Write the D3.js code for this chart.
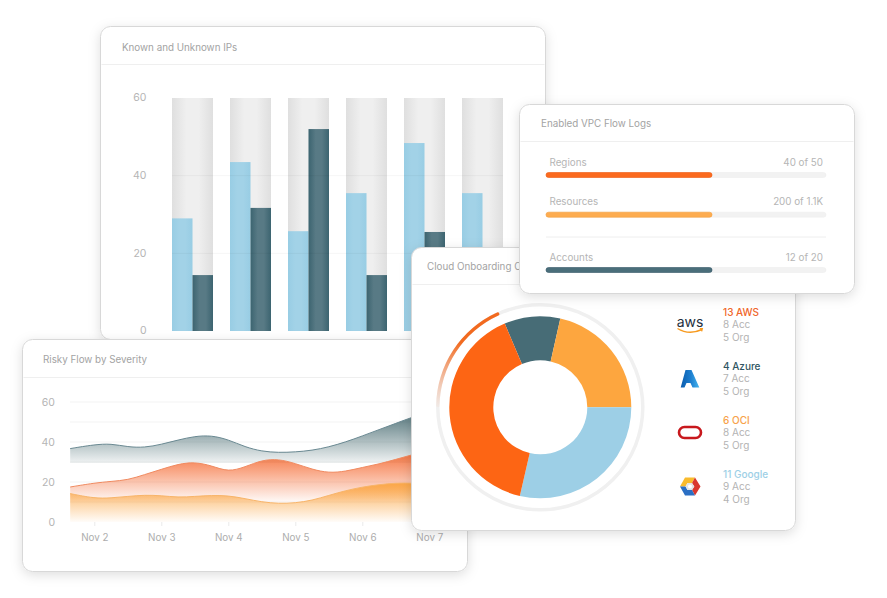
<!DOCTYPE html>
<html>
<head>
<meta charset="utf-8">
<script src="https://cdn.jsdelivr.net/npm/d3@7"></script>
<style>
  html, body { margin: 0; padding: 0; background: #fff; }
  svg { display: block; }
  text { font-family: Inter, "Open Sans", sans-serif; }
</style>
</head>
<body>
<svg id="chart" width="887" height="598"></svg>
<script>
// known / unknown IP bars
const ipGroups = [0, 1, 2, 3, 4, 5];
const knownIps = [29, 43.5, 25.7, 35.5, 48.4, 35.5];
const unknownIps = [14.4, 31.7, 52, 14.4, 25.5, 14.4];
const ipTicks = [0, 20, 40, 60];

// risky flow curves, read every quarter day
const flowDays = [1.64, 2, 2.25, 2.5, 2.75, 3, 3.25, 3.5, 3.75, 4, 4.25, 4.5, 4.75, 5, 5.25, 5.5, 5.75, 6, 6.25, 6.5, 6.75, 7, 7.25];
const flowHigh = [36.7, 38.7, 39.2, 37.5, 37.2, 38.8, 41, 42.9, 43.3, 41.2, 37.5, 35.3, 34.7, 35, 35.8, 37.5, 40, 43, 46.2, 49.3, 52.5, 55, 56.7];
const flowMedium = [17.5, 19.5, 20.3, 21, 23.7, 26.3, 29, 30, 28.2, 25, 27.5, 31, 31.5, 29.3, 26.3, 24.5, 25.3, 27.3, 29, 31.3, 33.7, 35.8, 37.5];
const flowLow = [14.2, 11.8, 12, 12.8, 13.5, 13.2, 12.3, 12.8, 13.3, 13.2, 11.7, 10, 9.2, 9.5, 10.8, 13.3, 15.7, 17.5, 18.7, 19.5, 19.5, 18.8, 18.3];
const flowTicks = [0, 20, 40, 60];
const flowGrid = [10, 20, 30, 40, 50, 60];
const dayTicks = [2, 3, 4, 5, 6, 7];

// cloud onboarding donut, shares
const cloudNames = ["Azure", "OCI", "Google", "AWS"];
const cloudShares = [35.7, 77.3, 103, 144];
const cloudColors = ["#476c76", "#fda63f", "#9dcfe6", "#fd6514"];

// legend
const legendTitles = ["13 AWS", "4 Azure", "6 OCI", "11 Google"];
const legendAcc = ["8 Acc", "7 Acc", "8 Acc", "9 Acc"];
const legendOrg = ["5 Org", "5 Org", "5 Org", "4 Org"];
const legendColors = ["#f0662a", "#2f5562", "#f7a24a", "#9dcfe6"];

// flow logs rows
const logNames = ["Regions", "Resources", "Accounts"];
const logCounts = ["40 of 50", "200 of 1.1K", "12 of 20"];
const logFill = [0.593, 0.593, 0.593];
const logColors = ["#fb6a1e", "#fdac50", "#4a6e7a"];
const logEdges = ["#ee5c12", "#f6a140", "#35596a"];

const svg = d3.select("#chart");
const defs = svg.append("defs");

function hGradient(id, edge, mid) {
    let g = defs.append("linearGradient").attr("id", id);
    g.append("stop").attr("offset", 0).attr("stop-color", edge);
    g.append("stop").attr("offset", 0.35).attr("stop-color", mid);
    g.append("stop").attr("offset", 0.65).attr("stop-color", mid);
    g.append("stop").attr("offset", 1).attr("stop-color", edge);
}
hGradient("barBg", "#dfdfdf", "#efefef");
hGradient("barDark", "#3c6470", "#587a85");
hGradient("barLight", "#98cde4", "#a2d2e7");

function vGradient(id, y1, y2, top, topOp, bottom, bottomOp) {
    let g = defs.append("linearGradient").attr("id", id)
        .attr("gradientUnits", "userSpaceOnUse")
        .attr("x1", 0).attr("x2", 0).attr("y1", y1).attr("y2", y2);
    g.append("stop").attr("offset", 0).attr("stop-color", top).attr("stop-opacity", topOp);
    g.append("stop").attr("offset", 1).attr("stop-color", bottom).attr("stop-opacity", bottomOp);
}

let azureFill = defs.append("linearGradient").attr("id", "azureFill");
azureFill.append("stop").attr("offset", 0).attr("stop-color", "#0b5cad");
azureFill.append("stop").attr("offset", 0.55).attr("stop-color", "#1d7fd0");
azureFill.append("stop").attr("offset", 1).attr("stop-color", "#45b5ee");

let shadow = defs.append("filter").attr("id", "cardShadow")
    .attr("x", "-10%").attr("y", "-10%").attr("width", "120%").attr("height", "125%");
shadow.append("feDropShadow").attr("dx", 0).attr("dy", 3).attr("stdDeviation", 6)
    .attr("flood-color", "#000").attr("flood-opacity", 0.13);

function card(x, y, w, h, headerY, title, titleX, titleY) {
    let g = svg.append("g");
    g.append("rect").attr("x", x).attr("y", y).attr("width", w).attr("height", h)
        .attr("rx", 10).attr("fill", "#fff").attr("stroke", "#d8d8d8").attr("filter", "url(#cardShadow)");
    g.append("line").attr("x1", x + 1).attr("x2", x + w - 1).attr("y1", headerY).attr("y2", headerY)
        .attr("stroke", "#efefef");
    g.append("text").attr("x", titleX).attr("y", titleY)
        .attr("font-size", 9.8).attr("fill", "#a3a3a3").text(title);
    return g;
}

function drawIpCard() {
    let g = card(100.5, 26.5, 445, 313, 64.5, "Known and Unknown IPs", 122, 50.5);
    let y = d3.scaleLinear().domain([0, 60]).range([331, 98]);
    let x = d3.scaleBand().domain(ipGroups).range([172, 503]).paddingInner(17 / 58);
    let sub = d3.scaleBand().domain(["known", "unknown"]).range([0, x.bandwidth()]);

    g.selectAll(".bg").data(ipGroups).join("rect")
        .attr("x", d => x(d)).attr("y", y(60))
        .attr("width", x.bandwidth()).attr("height", y(0) - y(60))
        .attr("fill", "url(#barBg)");
    g.selectAll(".known").data(knownIps).join("rect")
        .attr("x", (d, i) => x(i) + sub("known")).attr("y", d => y(d))
        .attr("width", sub.bandwidth()).attr("height", d => y(0) - y(d))
        .attr("fill", "url(#barLight)");
    g.selectAll(".unknown").data(unknownIps).join("rect")
        .attr("x", (d, i) => x(i) + sub("unknown")).attr("y", d => y(d))
        .attr("width", sub.bandwidth()).attr("height", d => y(0) - y(d))
        .attr("fill", "url(#barDark)");

    g.selectAll(".grid").data(ipTicks.filter(d => d > 0 && d < 60)).join("line")
        .attr("x1", 172).attr("x2", 503).attr("y1", d => y(d)).attr("y2", d => y(d))
        .attr("stroke", "#000").attr("stroke-opacity", 0.04);

    let axis = g.append("g").attr("transform", "translate(146.5,-0.7)")
        .call(d3.axisLeft(y).tickValues(ipTicks).tickSize(0).tickPadding(0));
    axis.select(".domain").remove();
    axis.selectAll("text").attr("font-size", 10.5).attr("fill", "#b5b5b5")
        .style("font-family", "Inter");
}

function drawFlowCard() {
    let g = card(22.5, 339.5, 445, 232, 377.5, "Risky Flow by Severity", 43, 362.5);
    let x = d3.scaleLinear().domain([2, 7]).range([94.3, 429.3]);
    let y = d3.scaleLinear().domain([0, 60]).range([522, 402]);

    g.selectAll(".grid").data(flowGrid).join("line")
        .attr("x1", 70).attr("x2", 466).attr("y1", d => y(d)).attr("y2", d => y(d))
        .attr("stroke", "#f3f3f3");

    vGradient("flowHighFill", y(56), y(29.5), "#45696f", 0.95, "#45696f", 0.08);
    vGradient("flowMediumFill", y(38), y(9), "#f4642a", 1, "#f4642a", 0);
    vGradient("flowLowFill", y(20), y(0), "#fba43f", 0.95, "#fba43f", 0.03);

    let series = [
        { values: flowHigh, base: 29.5, fill: "url(#flowHighFill)", line: "#6a8992" },
        { values: flowMedium, base: 9, fill: "url(#flowMediumFill)", line: "#f08a60" },
        { values: flowLow, base: 0, fill: "url(#flowLowFill)", line: "#f8b468" }
    ];
    series.forEach(s => {
        let pts = flowDays.map((d, i) => [d, s.values[i]]);
        let area = d3.area().x(d => x(d[0])).y0(y(s.base)).y1(d => y(d[1])).curve(d3.curveBasis);
        let line = d3.line().x(d => x(d[0])).y(d => y(d[1])).curve(d3.curveBasis);
        g.append("path").attr("d", area(pts)).attr("fill", s.fill);
        g.append("path").attr("d", line(pts)).attr("fill", "none").attr("stroke", s.line).attr("stroke-width", 1);
    });

    let left = g.append("g").attr("transform", "translate(55,0)")
        .call(d3.axisLeft(y).tickValues(flowTicks).tickSize(0).tickPadding(0));
    left.select(".domain").remove();
    left.selectAll("text").attr("font-size", 10.5).attr("fill", "#b5b5b5").style("font-family", "Inter");

    let bottom = g.append("g").attr("transform", "translate(0,522)")
        .call(d3.axisBottom(x).tickValues(dayTicks).tickFormat(d => "Nov " + d).tickSize(4).tickPadding(8));
    bottom.select(".domain").remove();
    bottom.selectAll("line").attr("stroke", "#eaeaea");
    bottom.selectAll("text").attr("font-size", 9.8).attr("fill", "#adadad").style("font-family", "Inter");
}

function drawCloudCard() {
    let g = card(411.5, 247.5, 384, 283, 284.5, "Cloud Onboarding Coverage", 427, 269.5);
    let center = g.append("g").attr("transform", "translate(540.3,407.3)");

    center.append("circle").attr("r", 102.5).attr("fill", "none")
        .attr("stroke", "#f0f0f0").attr("stroke-width", 3.5);

    vGradient("sweepFill", -65, 5, "#f26a1f", 1, "#f4a27a", 0);
    let sweep = d3.arc().innerRadius(100.8).outerRadius(104.2).cornerRadius(1.7);
    center.append("path")
        .attr("d", sweep({ startAngle: -Math.PI / 2, endAngle: -23.6 * Math.PI / 180 }))
        .attr("fill", "url(#sweepFill)");

    let pie = d3.pie().sort(null).startAngle(-23 * Math.PI / 180).endAngle((360 - 23) * Math.PI / 180);
    let arc = d3.arc().innerRadius(47).outerRadius(91);
    center.selectAll(".slice").data(pie(cloudShares)).join("path")
        .attr("d", arc).attr("fill", (d, i) => cloudColors[i]);

    legendTitles.forEach((t, i) => {
        let top = 315.5 + i * 54;
        g.append("text").attr("x", 723).attr("y", top).attr("font-size", 10).attr("font-weight", 500)
            .attr("fill", legendColors[i]).text(t);
        g.append("text").attr("x", 723).attr("y", top + 12.6).attr("font-size", 10).attr("fill", "#b3b3b3").text(legendAcc[i]);
        g.append("text").attr("x", 723).attr("y", top + 25.2).attr("font-size", 10).attr("fill", "#b3b3b3").text(legendOrg[i]);
    });

    drawLogos(g);
}

function drawLogos(g) {
    // aws
    g.append("text").attr("x", 690).attr("y", 326.5).attr("text-anchor", "middle")
        .attr("font-size", 14).attr("fill", "#252f3e").text("aws");
    g.append("path").attr("d", "M677.5,328.5 Q689,335.5 702,329.5").attr("fill", "none")
        .attr("stroke", "#f79a1e").attr("stroke-width", 1.4);
    g.append("path").attr("d", "M699.5,328 L703.2,328 L702,332 Z").attr("fill", "#f79a1e");

    // azure
    g.append("path")
        .attr("d", "M685.5,370 L691.5,370 L699.3,387.5 L692.5,387.5 L690.5,383 L686.5,383 L684.5,387.5 L680.7,387.5 Z")
        .attr("fill", "url(#azureFill)");

    // oracle
    g.append("rect").attr("x", 679).attr("y", 427).attr("width", 22).attr("height", 11).attr("rx", 5.5)
        .attr("fill", "none").attr("stroke", "#c8181d").attr("stroke-width", 2.6);

    // google cloud hexagon
    g.append("path").attr("d", "M680,486.5 L685,477.5 L695,477.5 L692,483 L687.5,483 L685.5,486.5 Z").attr("fill", "#f9bb2d");
    g.append("path").attr("d", "M695,477.5 L700.5,486.5 L695,495.5 L692,490 L694.3,486.5 L692,483 Z").attr("fill", "#d9382e");
    g.append("path").attr("d", "M680,486.5 L685.5,486.5 L687.5,490 L692,490 L695,495.5 L685,495.5 Z").attr("fill", "#2b6fc4");
    g.append("path").attr("d", "M685.5,486.5 L687.5,483 L692,483 L694.3,486.5 L692,490 L687.5,490 Z").attr("fill", "#e3e3e3");
    g.append("circle").attr("cx", 690).attr("cy", 486.5).attr("r", 2).attr("fill", "#fff");
}

function drawLogsCard() {
    let g = card(519.5, 104.5, 335, 189, 141.5, "Enabled VPC Flow Logs", 541, 126.5);
    let x = d3.scaleLinear().domain([0, 1]).range([546, 826]);
    let rowY = [175, 214.7, 270];

    g.append("line").attr("x1", 546).attr("x2", 826).attr("y1", 237).attr("y2", 237).attr("stroke", "#eeeeee");

    logNames.forEach((name, i) => {
        g.append("text").attr("x", 549.5).attr("y", rowY[i] - 9.5).attr("font-size", 9.8)
            .attr("fill", "#b5b5b5").text(name);
        g.append("text").attr("x", 823).attr("y", rowY[i] - 9.5).attr("text-anchor", "end").attr("font-size", 9.8)
            .attr("fill", "#b5b5b5").text(logCounts[i]);
        g.append("rect").attr("x", x(0)).attr("y", rowY[i] - 2.5).attr("width", x(1) - x(0)).attr("height", 5).attr("rx", 2.5)
            .attr("fill", "#f2f2f2").attr("stroke", "#ececec").attr("stroke-width", 0.5);
        g.append("rect").attr("x", x(0)).attr("y", rowY[i] - 2.5).attr("width", x(logFill[i]) - x(0)).attr("height", 5).attr("rx", 2.5)
            .attr("fill", logColors[i]).attr("stroke", logEdges[i]).attr("stroke-width", 0.6);
    });
}

drawIpCard();
drawFlowCard();
drawCloudCard();
drawLogsCard();
</script>
</body>
</html>
